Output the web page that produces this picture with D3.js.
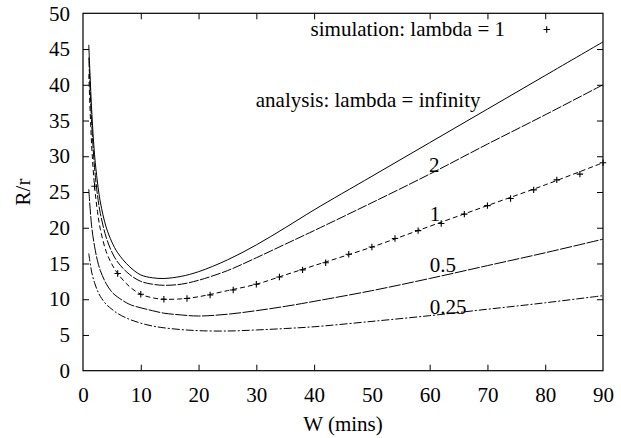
<!DOCTYPE html>
<html>
<head>
<meta charset="utf-8">
<script src="https://cdn.jsdelivr.net/npm/d3@7"></script>
<style>
  html, body { margin: 0; padding: 0; background: #fff; }
  svg { display: block; }
  text { font-family: "Liberation Serif", "Times New Roman", serif; fill: #000; }
</style>
</head>
<body>
<div id="chart"></div>
<script>
// values
const wGrid = [1, 1.5, 2, 2.5, 3, 4, 5, 6, 8, 10, 12, 14, 17, 20, 25, 30, 35, 40, 50, 60, 70, 80, 90];
const rInfinity = [45.6, 36.5, 30.2, 26.4, 23.6, 20.1, 18.0, 16.5, 14.6, 13.4, 13.0, 12.9, 13.2, 13.85, 15.5, 17.6, 20.0, 22.5, 27.2, 31.9, 36.6, 41.3, 46.0];
const rLambda2 = [43.8, 34.6, 28.4, 24.6, 22.0, 18.7, 16.6, 15.2, 13.5, 12.5, 12.1, 11.95, 12.1, 12.65, 14.0, 15.8, 17.7, 19.6, 23.5, 27.5, 31.7, 35.8, 40.0];
const rLambda1 = [41.5, 31.5, 25.8, 22.3, 19.8, 16.7, 14.9, 13.6, 11.8, 10.7, 10.2, 10.0, 10.05, 10.35, 11.2, 12.1, 13.4, 14.7, 17.3, 20.2, 23.1, 26.0, 29.1];
const rLambda05 = [25.4, 20.2, 17.4, 15.4, 14.0, 12.2, 11.0, 10.3, 9.3, 8.8, 8.4, 8.05, 7.8, 7.65, 7.9, 8.4, 9.0, 9.7, 11.2, 12.9, 14.7, 16.5, 18.4];
const rLambda025 = [16.4, 13.8, 12.3, 11.2, 10.4, 9.3, 8.6, 8.0, 7.2, 6.65, 6.25, 6.0, 5.75, 5.6, 5.55, 5.7, 5.9, 6.15, 6.9, 7.7, 8.6, 9.5, 10.5];

// simulation, lambda = 1
const simW = [2, 6, 10, 14, 18, 22, 26, 30, 34, 38, 42, 46, 50, 54, 58, 62, 66, 70, 74, 78, 82, 86, 90];
const simR = [25.8, 13.6, 10.7, 10.0, 10.1, 10.6, 11.3, 12.1, 13.1, 14.1, 15.1, 16.3, 17.3, 18.5, 19.6, 20.6, 21.9, 23.1, 24.1, 25.3, 26.7, 27.5, 29.1];

const xTicks = [0, 10, 20, 30, 40, 50, 60, 70, 80, 90];
const yTicks = [0, 5, 10, 15, 20, 25, 30, 35, 40, 45, 50];
const curveNames = ["infinity", "2", "1", "0.5", "0.25"];

(function() {
    'use strict';

    const W = 621, H = 438;
    const margin = { top: 13.3, right: 18, bottom: 67.3, left: 83 };
    const iw = W - margin.left - margin.right;
    const ih = H - margin.top - margin.bottom;
    const fontSize = 21;

    const svg = d3.select("#chart").append("svg")
        .attr("width", W)
        .attr("height", H);

    const g = svg.append("g")
        .attr("transform", `translate(${margin.left},${margin.top})`);

    const x = d3.scaleLinear().domain([0, 90]).range([0, iw]);
    const y = d3.scaleLinear().domain([0, 50]).range([ih, 0]);

    g.append("clipPath").attr("id", "plot-clip")
        .append("rect").attr("width", iw).attr("height", ih);

    // ticks on all four sides, pointing inward (gnuplot style)
    const tl = 6;
    const bottomAx = d3.axisBottom(x).tickValues(xTicks).tickSizeInner(-tl).tickSizeOuter(0).tickPadding(16);
    const topAx = d3.axisTop(x).tickValues(xTicks).tickSizeInner(-tl).tickSizeOuter(0).tickFormat("");
    const leftAx = d3.axisLeft(y).tickValues(yTicks).tickSizeInner(-tl).tickSizeOuter(0).tickPadding(13);
    const rightAx = d3.axisRight(y).tickValues(yTicks).tickSizeInner(-tl).tickSizeOuter(0).tickFormat("");

    g.append("g").attr("transform", `translate(0,${ih})`).call(bottomAx);
    g.append("g").call(topAx);
    g.append("g").call(leftAx);
    g.append("g").attr("transform", `translate(${iw},0)`).call(rightAx);

    g.selectAll(".domain").remove();
    g.selectAll(".tick line").attr("stroke", "#000").attr("stroke-width", 1);
    g.selectAll(".tick text")
        .style("font-family", "Liberation Serif")
        .style("font-size", fontSize + "px")
        .attr("fill", "#000");
    // end ticks sit on the border anyway
    g.selectAll(".tick").filter(d => d === 0 || d === 90 || d === 50).select("line").remove();

    // border box
    g.append("rect")
        .attr("width", iw).attr("height", ih)
        .attr("fill", "none")
        .attr("stroke", "#000")
        .attr("stroke-width", 1.2);

    // analysis curves
    const series = [rInfinity, rLambda2, rLambda1, rLambda05, rLambda025];
    const dashes = [null, "10,1.5", "5,3", "12,1.5", "8,2,2,2"];

    const line = d3.line()
        .x(d => x(d[0]))
        .y(d => y(d[1]))
        .curve(d3.curveCatmullRom.alpha(0.5));

    const plot = g.append("g").attr("clip-path", "url(#plot-clip)");

    series.forEach((vals, i) => {
        plot.append("path")
            .datum(wGrid.map((w, k) => [w, vals[k]]))
            .attr("class", "curve curve-" + curveNames[i])
            .attr("d", line)
            .attr("fill", "none")
            .attr("stroke", "#000")
            .attr("stroke-width", 1)
            .attr("stroke-dasharray", dashes[i]);
    });

    // simulation points as "+"
    const ps = 3.2;
    const plus = d => `M${-ps},0H${ps}M0,${-ps}V${ps}`;
    g.append("g").selectAll("path.sim")
        .data(simW.map((w, k) => [w, simR[k]]))
        .enter()
        .append("path")
        .attr("class", "sim")
        .attr("transform", d => `translate(${x(d[0])},${y(d[1])})`)
        .attr("d", plus)
        .attr("stroke", "#000")
        .attr("stroke-width", 1.1);

    // curve labels (placed in data units)
    const labelPos = [
        { t: "2",    w: 59.9, r: 27.8 },
        { t: "1",    w: 60.0, r: 20.95 },
        { t: "0.5",  w: 60.0, r: 13.8 },
        { t: "0.25", w: 60.0, r: 7.9 }
    ];
    g.selectAll("text.clabel")
        .data(labelPos)
        .enter()
        .append("text")
        .attr("class", "clabel")
        .attr("x", d => x(d.w))
        .attr("y", d => y(d.r))
        .style("font-size", fontSize + "px")
        .text(d => d.t);

    g.append("text")
        .attr("x", x(29.9))
        .attr("y", y(36.9))
        .style("font-size", fontSize + "px")
        .text("analysis: lambda = infinity");

    // key
    g.append("text")
        .attr("x", 505 - margin.left)
        .attr("y", 36.5 - margin.top)
        .attr("text-anchor", "end")
        .style("font-size", fontSize + "px")
        .text("simulation: lambda = 1");
    g.append("path")
        .attr("transform", `translate(${546.7 - margin.left},${29.5 - margin.top})`)
        .attr("d", plus)
        .attr("stroke", "#000")
        .attr("stroke-width", 1.1);

    // axis titles
    svg.append("text")
        .attr("x", margin.left + iw / 2)
        .attr("y", 431)
        .attr("text-anchor", "middle")
        .style("font-size", fontSize + "px")
        .text("W (mins)");

    svg.append("text")
        .attr("transform", `translate(29.5,${margin.top + ih / 2}) rotate(-90)`)
        .attr("text-anchor", "middle")
        .style("font-size", fontSize + "px")
        .text("R/r");
})();
</script>
</body>
</html>
